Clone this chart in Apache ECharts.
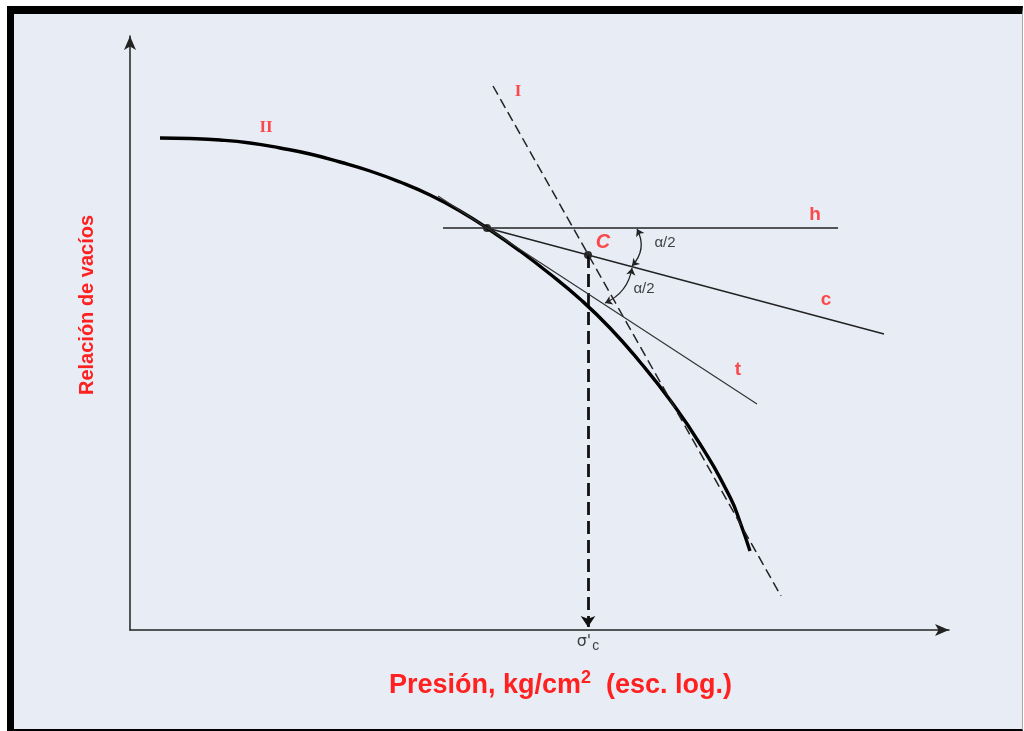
<!doctype html>
<html>
<head>
    <meta charset="utf-8">
    <title>Relación de vacíos - Presión</title>
    <script src="https://cdn.jsdelivr.net/npm/echarts@6/dist/echarts.min.js"></script>
    <style>
        html, body{
            margin: 0;
            padding: 0;
            width: 100%;height: 100%;
            background-color: #fff;
            overflow: hidden;
        }
        .frame{
            position: absolute;
            left: 7px; top: 6px;
            width: 1016px; height: 725px;
            box-sizing: border-box;
            border-top: 8px solid #000;
            border-left: 7px solid #000;
            border-bottom: 2px solid #000;
            border-right: 1px solid #a8a8a8;
            background-color: #e8ecf5;
        }
        #chartBox{
            position: absolute;
            left: 0; top: 0;
            width: 1024px;
            height: 731px;
        }
    </style>
</head>
<body>
    <div class="frame"></div>
    <div id="chartBox"></div>
<script type="text/javascript">
    // unidades del esquema: x hacia la derecha desde el eje, y hacia arriba desde el eje
    var curveII = [[30,492],[60,491.5],[90,490],[120,487],[150,482],[180,476],[210,468],[240,459],
                   [270,448],[300,435],[330,419],[360,400],[390,379],[420,356],[450,331],[480,302],
                   [510,268],[540,230],[570,186],[600,133],[610,108],[620,79]];
    var lineI = [[363,544],[651,34]];
    var lineH = [[313,402],[708,402]];
    var lineC = [[357,402],[754,296]];
    var lineT = [[308,434],[627,226]];
    var dots = [[357,402],[458,375]];
    var sigmaLine = [[458,375],[458,3]];
    var arc1 = [[507,401],[502,364]];
    var arc2 = [[502,362],[475,327]];
    var tagText = ['II','I','h','C','c','t','α/2','α/2'];
    var tagPos = [[136,502],[388,538],[685,415],[473,388],[696,330],[608,260],[535,387],[514,341]];
    var sigmaPos = [458,-12];

    var red = '#ff2020';
    var tagStyle = [
        {fontFamily:'Liberation Serif', fontWeight:'bold', fontSize:17, color:red},
        {fontFamily:'Liberation Serif', fontWeight:'bold', fontSize:17, color:red},
        {fontFamily:'Liberation Sans', fontWeight:'bold', fontSize:19, color:red},
        {fontFamily:'Liberation Sans', fontWeight:'bold', fontStyle:'italic', fontSize:20, color:red},
        {fontFamily:'Liberation Sans', fontWeight:'bold', fontSize:19, color:red},
        {fontFamily:'Liberation Sans', fontWeight:'bold', fontSize:19, color:red},
        {fontFamily:'Liberation Sans', fontSize:15, color:'#111'},
        {fontFamily:'Liberation Sans', fontSize:15, color:'#111'}
    ];

    var tagData = tagText.map(function(t, i){
        var s = tagStyle[i];
        return {
            name: t,
            value: tagPos[i],
            label: {
                show: true, position: 'inside', formatter: '{b}',
                fontFamily: s.fontFamily, fontWeight: s.fontWeight || 'normal',
                fontStyle: s.fontStyle || 'normal', fontSize: s.fontSize, color: s.color
            }
        };
    });

    function straight(data, width, color, dash){
        return {
            type: 'line', data: data, symbol: 'none', silent: true, animation: false,
            lineStyle: {width: width, color: color, type: dash || 'solid'}
        };
    }

    var myChart = echarts.init(document.getElementById('chartBox'));
    var option = {
        backgroundColor: 'transparent',
        animation: false,
        grid: {left: 130, right: 75, top: 36, bottom: 101},
        xAxis: {
            type: 'value', min: 0, max: 819,
            axisLine: {show: true, symbol: ['none','arrow'], symbolSize: [9,14],
                       lineStyle: {color: '#222', width: 1.5}},
            axisTick: {show: false}, axisLabel: {show: false}, splitLine: {show: false},
            name: 'Presión, kg/cm{sup|2}  (esc. log.)',
            nameLocation: 'middle', nameGap: 39,
            nameTextStyle: {
                fontFamily: 'Liberation Sans', fontWeight: 'bold', fontSize: 27, color: red,
                padding: [0,0,0,42],
                rich: {sup: {fontFamily: 'Liberation Sans', fontWeight: 'bold', fontSize: 18,
                             color: red, padding: [0,0,15,0]}}
            }
        },
        yAxis: {
            type: 'value', min: 0, max: 594,
            axisLine: {show: true, symbol: ['none','arrow'], symbolSize: [9,14],
                       lineStyle: {color: '#222', width: 1.5}},
            axisTick: {show: false}, axisLabel: {show: false}, splitLine: {show: false},
            name: 'Relación de vacíos',
            nameLocation: 'middle', nameGap: 33, nameRotate: 90,
            nameTextStyle: {fontFamily: 'Liberation Sans', fontWeight: 'bold', fontSize: 20, color: red,
                            padding: [0,0,0,56]}
        },
        series: [
            {
                type: 'line', data: curveII, smooth: 0.5, symbol: 'none', silent: true,
                lineStyle: {width: 3.4, color: '#000'}
            },
            straight(lineI, 1.5, '#222', [10,5]),
            straight(lineH, 1.3, '#222'),
            straight(lineC, 1.4, '#222'),
            straight(lineT, 1.2, '#333'),
            {
                type: 'lines', coordinateSystem: 'cartesian2d', silent: true,
                symbol: ['none','arrow'], symbolSize: 11,
                lineStyle: {width: 2.8, color: '#111', type: [13,6], opacity: 1},
                data: [{coords: sigmaLine}]
            },
            {
                type: 'lines', coordinateSystem: 'cartesian2d', silent: true,
                symbol: ['arrow','arrow'], symbolSize: 7,
                lineStyle: {width: 1.3, color: '#222', curveness: 0.35, opacity: 1},
                data: [{coords: arc1}]
            },
            {
                type: 'lines', coordinateSystem: 'cartesian2d', silent: true,
                symbol: ['arrow','arrow'], symbolSize: 7,
                lineStyle: {width: 1.3, color: '#222', curveness: 0.27, opacity: 1},
                data: [{coords: arc2}]
            },
            {
                type: 'scatter', data: dots, symbolSize: 8, silent: true,
                itemStyle: {color: '#000'}
            },
            {
                type: 'scatter', data: tagData, symbolSize: 0, silent: true, clip: false
            },
            {
                type: 'scatter', symbolSize: 0, silent: true, clip: false,
                data: [{value: sigmaPos, label: {
                    show: true, position: 'inside',
                    formatter: '{s|σ\'}{c|c}',
                    rich: {
                        s: {fontFamily: 'DejaVu Sans', fontSize: 16, color: '#111'},
                        c: {fontFamily: 'Liberation Sans', fontSize: 14, color: '#111', padding: [8,0,0,1]}
                    }
                }}]
            }
        ]
    };
    myChart.setOption(option);
</script>
</body>
</html>
